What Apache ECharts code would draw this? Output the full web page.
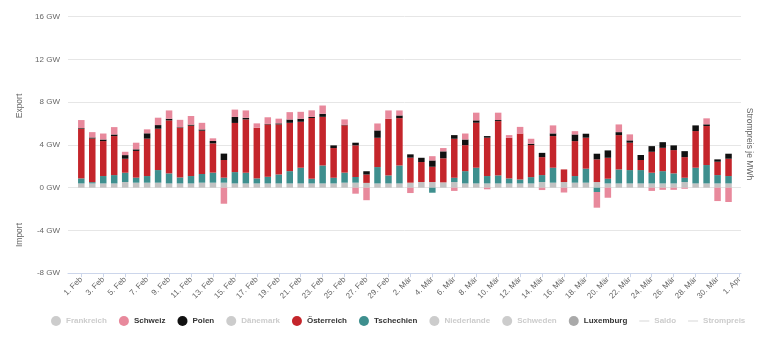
<!DOCTYPE html>
<html>
<head>
<meta charset="utf-8">
<script src="https://cdn.jsdelivr.net/npm/echarts@6/dist/echarts.min.js"></script>
<style>
html,body{margin:0;padding:0;background:#fff;}
#chart{width:776px;height:339px;}
</style>
</head>
<body>
<div id="chart"></div>
<script>
// Day labels, 1 Feb .. 1 Apr
const dates = [
  '1. Feb','2. Feb','3. Feb','4. Feb','5. Feb','6. Feb','7. Feb','8. Feb','9. Feb','10. Feb',
  '11. Feb','12. Feb','13. Feb','14. Feb','15. Feb','16. Feb','17. Feb','18. Feb','19. Feb','20. Feb',
  '21. Feb','22. Feb','23. Feb','24. Feb','25. Feb','26. Feb','27. Feb','28. Feb','29. Feb',
  '1. Mär','2. Mär','3. Mär','4. Mär','5. Mär','6. Mär','7. Mär','8. Mär','9. Mär','10. Mär',
  '11. Mär','12. Mär','13. Mär','14. Mär','15. Mär','16. Mär','17. Mär','18. Mär','19. Mär','20. Mär',
  '21. Mär','22. Mär','23. Mär','24. Mär','25. Mär','26. Mär','27. Mär','28. Mär','29. Mär','30. Mär','31. Mär',
  '1. Apr'
];

// GW per day (1 Feb .. 31 Mär)
const luxemburg = [0.4,0.4,0.4,0.4,0.53,0.47,0.47,0.47,0.4,0.4,0.4,0.47,0.47,0.47,0.4,0.4,0.4,0.4,0.4,0.4,
  0.4,0.4,0.4,0.4,0.47,0.47,0.45,0.4,0.4,0.4,0.47,0.53,0.53,0.5,0.53,0.4,0.4,0.4,0.4,0.4,
  0.4,0.4,0.53,0.47,0.53,0.47,0.47,0.53,0.4,0.4,0.4,0.4,0.4,0.4,0.4,0.53,0.4,0.4,0.4,0.4];
const tschechien = [0.47,0.12,0.69,0.78,0.87,0.47,0.62,1.18,0.94,0.56,0.69,0.81,0.94,0.47,1.06,1.0,0.47,0.62,0.84,1.15,
  1.47,0.44,1.68,0.53,0.94,0.53,0,1.53,0.75,1.68,0,0,-0.47,0,0.4,1.15,1.47,0.69,0.75,0.47,
  0.37,0.59,0.65,1.4,0,0.62,1.31,-0.4,0.44,1.31,1.25,1.25,1.0,1.15,0.94,0.4,1.47,1.72,0.78,0.69];
const oesterreich = [4.65,4.08,3.27,3.65,1.31,2.5,3.5,3.87,4.96,4.65,4.71,4.05,2.74,1.65,4.6,4.99,4.74,4.9,4.68,4.52,
  4.3,5.68,4.55,2.78,4.43,2.96,0.78,2.74,5.3,4.43,2.34,1.87,1.43,2.25,3.65,2.43,4.21,3.59,5.08,3.8,
  4.3,3.0,1.68,2.96,1.18,3.27,2.9,2.12,1.96,3.21,2.56,0.94,1.96,2.18,2.18,1.93,3.43,3.65,1.25,1.62];
const polen = [0.06,0.1,0.15,0.15,0.34,0.15,0.5,0.34,0.15,0.05,0.1,0.12,0.22,0.6,0.56,0.15,0,0.05,0.1,0.31,
  0.28,0.1,0.28,0.25,0.05,0.25,0.31,0.69,0,0.25,0.31,0.4,0.59,0.65,0.34,0.53,0.22,0.15,0.1,0,
  0,0.12,0.4,0.25,0,0.62,0.37,0.53,0.69,0.28,0.22,0.47,0.53,0.53,0.44,0.56,0.53,0.16,0.22,0.47];
const schweiz = [0.75,0.5,0.56,0.69,0.31,0.62,0.37,0.69,0.78,0.69,0.81,0.62,0.25,-1.5,0.69,0.69,0.41,0.62,0.44,0.69,
  0.65,0.62,0.78,0,0.5,-0.56,-1.17,0.65,0.78,0.47,-0.5,0,0.4,0.31,-0.3,0.56,0.72,-0.15,0.69,0.25,
  0.62,0.47,-0.22,0.75,-0.45,0.31,0,-1.47,-0.94,0.72,0.56,0,-0.3,-0.2,-0.2,-0.1,0,0.56,-1.25,-1.34];

const chart = echarts.init(document.getElementById('chart'), null, {renderer: 'canvas'});

function bar(name, color, arr) {
  return {
    name: name, type: 'bar', stack: arr ? 'exp' : 'hidden-' + name, barWidth: 6.5,
    xAxisIndex: 1, yAxisIndex: 1,
    itemStyle: {color: color},
    data: arr ? arr.slice() : []
  };
}

const linePath = 'path://M0,0L20,0L20,1.6L0,1.6Z';
const font = 'Liberation Sans, Arial, sans-serif';

chart.setOption({
  animation: false,
  backgroundColor: '#ffffff',
  grid: [
    {left: 68, right: 35, top: 16.7, bottom: 65.8, containLabel: false},
    {left: 81.3, right: 36.5, top: 16.7, bottom: 65.8, containLabel: false}
  ],
  xAxis: [
    {
      type: 'value', gridIndex: 0, min: 0, max: 1,
      axisLine: {show: true, onZero: false, lineStyle: {color: '#ccd6eb'}},
      axisTick: {show: false}, axisLabel: {show: false}, splitLine: {show: false}
    },
    {
      type: 'category', gridIndex: 1, data: dates, boundaryGap: false,
      axisLine: {show: false, onZero: false},
      axisTick: {show: true, interval: 1, length: 4, lineStyle: {color: '#ccd6eb'}},
      splitLine: {show: false},
      axisLabel: {
        interval: 1, rotate: 45, margin: 5,
        fontSize: 8, color: '#666', fontFamily: font
      }
    }
  ],
  yAxis: [
    {
      type: 'value', gridIndex: 0, min: -8, max: 16, interval: 4,
      axisLine: {show: false}, axisTick: {show: false},
      splitLine: {lineStyle: {color: '#e6e6e6'}},
      axisLabel: {
        margin: 8, fontSize: 8, color: '#666', fontFamily: font,
        formatter: v => v + ' GW'
      }
    },
    {
      type: 'value', gridIndex: 1, min: -8, max: 16, interval: 4, show: false,
      splitLine: {show: false}
    }
  ],
  legend: {
    bottom: 8, left: 46,
    itemWidth: 10, itemHeight: 10, itemGap: 12,
    inactiveColor: '#cccccc',
    textStyle: {fontSize: 8, fontWeight: 'bold', color: '#333', fontFamily: font},
    selected: {
      'Frankreich': false, 'Dänemark': false, 'Niederlande': false, 'Schweden': false,
      'Saldo': false, 'Strompreis': false
    },
    data: [
      {name: 'Frankreich', icon: 'circle'},
      {name: 'Schweiz', icon: 'circle'},
      {name: 'Polen', icon: 'circle'},
      {name: 'Dänemark', icon: 'circle'},
      {name: 'Österreich', icon: 'circle'},
      {name: 'Tschechien', icon: 'circle'},
      {name: 'Niederlande', icon: 'circle'},
      {name: 'Schweden', icon: 'circle'},
      {name: 'Luxemburg', icon: 'circle', itemStyle: {color: '#a9a9a9'}},
      {name: 'Saldo', icon: linePath},
      {name: 'Strompreis', icon: linePath}
    ]
  },
  graphic: [
    {type: 'text', x: 20, y: 106, rotation: Math.PI / 2,
     style: {text: 'Export', fontSize: 8.5, fill: '#666', align: 'center', verticalAlign: 'middle', fontFamily: font}},
    {type: 'text', x: 20, y: 235, rotation: Math.PI / 2,
     style: {text: 'Import', fontSize: 8.5, fill: '#666', align: 'center', verticalAlign: 'middle', fontFamily: font}},
    {type: 'text', x: 749, y: 144, rotation: -Math.PI / 2,
     style: {text: 'Strompreis je MWh', fontSize: 8.5, fill: '#666', align: 'center', verticalAlign: 'middle', fontFamily: font}}
  ],
  series: [
    bar('Luxemburg', '#c2c2c2', luxemburg),
    bar('Tschechien', '#3e8f8e', tschechien),
    bar('Österreich', '#c4252b', oesterreich),
    bar('Polen', '#111111', polen),
    bar('Schweiz', '#e8899c', schweiz),
    bar('Schweden', '#6b8fc7', null),
    bar('Niederlande', '#f29c38', null),
    bar('Dänemark', '#8a5a9e', null),
    bar('Frankreich', '#2d5aa8', null),
    {name: 'Saldo', type: 'line', xAxisIndex: 1, yAxisIndex: 1, data: [], itemStyle: {color: '#555'}},
    {name: 'Strompreis', type: 'line', xAxisIndex: 1, yAxisIndex: 1, data: [], itemStyle: {color: '#777'}}
  ]
});
</script>
</body>
</html>
